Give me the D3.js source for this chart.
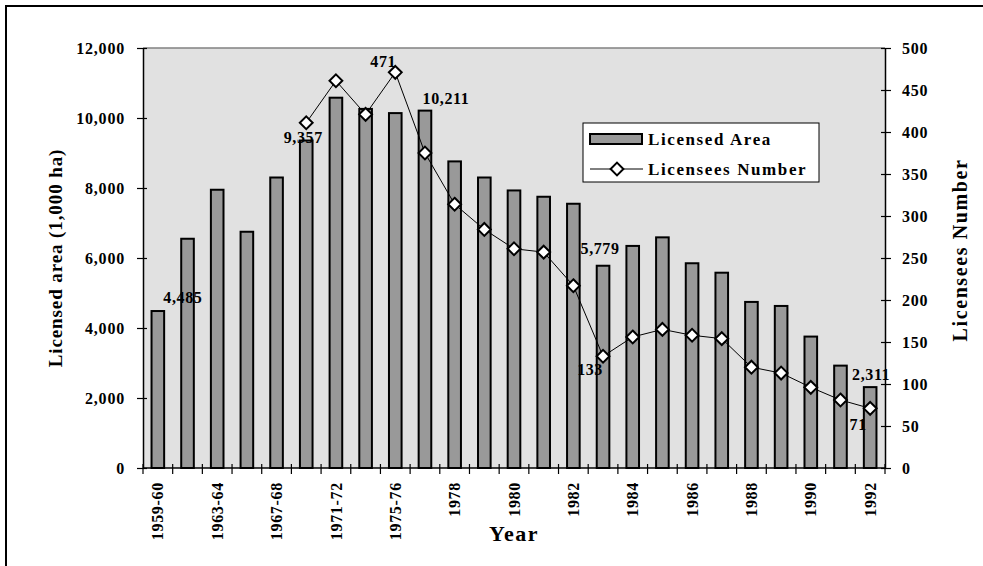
<!DOCTYPE html>
<html>
<head>
<meta charset="utf-8">
<script src="https://cdn.jsdelivr.net/npm/d3@7"></script>
<style>
  html, body { margin: 0; padding: 0; background: #ffffff; }
  svg { display: block; }
  text { font-family: "Liberation Serif", "Times New Roman", serif; font-weight: bold; fill: #000; }
</style>
</head>
<body>
<svg id="chart" width="983" height="566"></svg>
<script>
// ---------- DATA ----------
const categories = ["1959-60","1961-62","1963-64","1965-66","1967-68","1969-70","1971-72","1973-74","1975-76","1977",
  "1978","1979","1980","1981","1982","1983","1984","1985","1986","1987","1988","1989","1990","1991","1992"];
const shownTickLabels = ["1959-60","1963-64","1967-68","1971-72","1975-76","1978","1980","1982","1984","1986","1988","1990","1992"];
const licensedArea = [4485, 6550, 7950, 6750, 8300, 9357, 10580, 10260, 10140, 10211, 8760, 8300, 7930, 7750, 7550,
  5779, 6345, 6590, 5850, 5580, 4745, 4630, 3755, 2925, 2311];
const licenseesNumber = [null, null, null, null, null, 411, 461, 421, 471, 375, 314, 284, 261, 257, 217,
  133, 156, 165, 158, 154, 120, 113, 96, 81, 71];
const leftTicks = [0, 2000, 4000, 6000, 8000, 10000, 12000];
const rightTicks = [0, 50, 100, 150, 200, 250, 300, 350, 400, 450, 500];
const seriesNames = ["Licensed Area", "Licensees Number"];
// annotated points: which series / category, and the text shown
const annotations = [
  { series: "area", cat: "1959-60", text: "4,485", dx: 25, dy: -8 },
  { series: "area", cat: "1969-70", text: "9,357", dx: -3, dy: 2 },
  { series: "num",  cat: "1975-76", text: "471",   dx: -12, dy: -5 },
  { series: "area", cat: "1977",    text: "10,211", dx: 21, dy: -7 },
  { series: "area", cat: "1983",    text: "5,779", dx: -3, dy: -12 },
  { series: "num",  cat: "1983",    text: "133",   dx: -13, dy: 19 },
  { series: "area", cat: "1992",    text: "2,311", dx: 1, dy: -7 },
  { series: "num",  cat: "1992",    text: "71",    dx: -12, dy: 22 }
];

// ---------- LAYOUT ----------
const svg = d3.select("#chart");
const L = 143, R = 885, T = 48, B = 468;

// outer frame
svg.append("rect").attr("x", 6).attr("y", 6).attr("width", 990).attr("height", 600)
  .attr("fill", "none").attr("stroke", "#000").attr("stroke-width", 2);

const x = d3.scaleBand().domain(categories).range([L, R]).paddingInner(0.575).paddingOuter(0.2875);
const yL = d3.scaleLinear().domain([0, 12000]).range([B, T]);
const yR = d3.scaleLinear().domain([0, 500]).range([B, T]);

// plot background
svg.append("rect").attr("x", L).attr("y", T).attr("width", R - L).attr("height", B - T).attr("fill", "#e1e1e1");
svg.append("line").attr("x1", L).attr("x2", R).attr("y1", T).attr("y2", T).attr("stroke", "#808080").attr("stroke-width", 1.5);

// bars
svg.append("g").selectAll("rect").data(categories).join("rect")
  .attr("x", d => x(d))
  .attr("y", (d, i) => yL(licensedArea[i]))
  .attr("width", x.bandwidth())
  .attr("height", (d, i) => B - yL(licensedArea[i]))
  .attr("fill", "#999999").attr("stroke", "#000").attr("stroke-width", 2);

// axes
const tickFont = 16;
const gL = svg.append("g").attr("transform", `translate(${L},0)`)
  .call(d3.axisLeft(yL).tickValues(leftTicks).tickFormat(d3.format(",")).tickSize(6).tickSizeOuter(0).tickPadding(12));
const gR = svg.append("g").attr("transform", `translate(${R},0)`)
  .call(d3.axisRight(yR).tickValues(rightTicks).tickSize(6).tickSizeOuter(0).tickPadding(11));
[gL, gR].forEach(g => {
  g.select(".domain").attr("stroke", "#000").attr("stroke-width", 1.5);
  g.selectAll(".tick line").attr("stroke", "#000").attr("stroke-width", 1.2);
  g.selectAll("text").attr("font-size", tickFont).style("letter-spacing", "0.8px");
});
gL.selectAll(".tick line").attr("x1", 4);
gR.selectAll(".tick line").attr("x1", -4);

const gX = svg.append("g").attr("transform", `translate(0,${B})`)
  .call(d3.axisBottom(x).tickValues(shownTickLabels).tickSize(0).tickPadding(0));
gX.select(".domain").attr("d", `M${L},0H${R}`).attr("stroke", "#000").attr("stroke-width", 1.5);
gX.selectAll(".tick text")
  .attr("font-size", tickFont).style("letter-spacing", "0.7px")
  .attr("transform", "rotate(-90)")
  .attr("x", -14).attr("y", 0).attr("dy", "0.35em")
  .attr("text-anchor", "end");
// tick marks at category boundaries
const boundaries = d3.range(categories.length + 1).map(i => L + i * x.step());
gX.append("g").selectAll("line").data(boundaries).join("line")
  .attr("x1", d => d).attr("x2", d => d).attr("y1", -4).attr("y2", 6)
  .attr("stroke", "#000").attr("stroke-width", 1.2);

// line series
const pts = categories.map((c, i) => ({ c, v: licenseesNumber[i] })).filter(d => d.v != null);
const cx = c => x(c) + x.bandwidth() / 2;
svg.append("path").datum(pts)
  .attr("d", d3.line().x(d => cx(d.c)).y(d => yR(d.v)))
  .attr("fill", "none").attr("stroke", "#000").attr("stroke-width", 1);
const diamond = d3.symbol().type(d3.symbolDiamond2).size(105);
svg.append("g").selectAll("path").data(pts).join("path")
  .attr("d", diamond)
  .attr("transform", d => `translate(${cx(d.c)},${yR(d.v)})`)
  .attr("fill", "#fff").attr("stroke", "#000").attr("stroke-width", 2);

// annotations
svg.append("g").selectAll("text").data(annotations).join("text")
  .attr("x", d => cx(d.cat) + d.dx)
  .attr("y", d => {
    const i = categories.indexOf(d.cat);
    return (d.series === "area" ? yL(licensedArea[i]) : yR(licenseesNumber[i])) + d.dy;
  })
  .attr("text-anchor", "middle").attr("font-size", 16).style("letter-spacing", "0.6px")
  .text(d => d.text);

// axis titles
svg.append("text").attr("transform", `translate(62,${(T + B) / 2}) rotate(-90)`)
  .attr("text-anchor", "middle").attr("font-size", 19).style("letter-spacing", "0.9px")
  .text("Licensed area (1,000 ha)");
svg.append("text").attr("transform", `translate(967,${(T + B) / 2 - 8}) rotate(-90)`)
  .attr("text-anchor", "middle").attr("font-size", 20).style("letter-spacing", "1.6px")
  .text("Licensees Number");
svg.append("text").attr("x", 514).attr("y", 541)
  .attr("text-anchor", "middle").attr("font-size", 22).style("letter-spacing", "1.5px")
  .text("Year");

// legend
const lg = svg.append("g");
lg.append("rect").attr("x", 583).attr("y", 123).attr("width", 236).attr("height", 59)
  .attr("fill", "#fff").attr("stroke", "#000").attr("stroke-width", 1);
lg.append("rect").attr("x", 590).attr("y", 134).attr("width", 52).attr("height", 10)
  .attr("fill", "#999999").attr("stroke", "#000").attr("stroke-width", 2);
lg.append("line").attr("x1", 590).attr("x2", 643).attr("y1", 169).attr("y2", 169)
  .attr("stroke", "#000").attr("stroke-width", 1);
lg.append("path").attr("d", diamond).attr("transform", "translate(617,169)")
  .attr("fill", "#fff").attr("stroke", "#000").attr("stroke-width", 2);
lg.selectAll("text.lt").data(seriesNames).join("text").attr("class", "lt")
  .attr("x", 648).attr("y", (d, i) => 145 + i * 30)
  .attr("font-size", 17).style("letter-spacing", "1.6px")
  .text(d => d);
</script>
</body>
</html>
